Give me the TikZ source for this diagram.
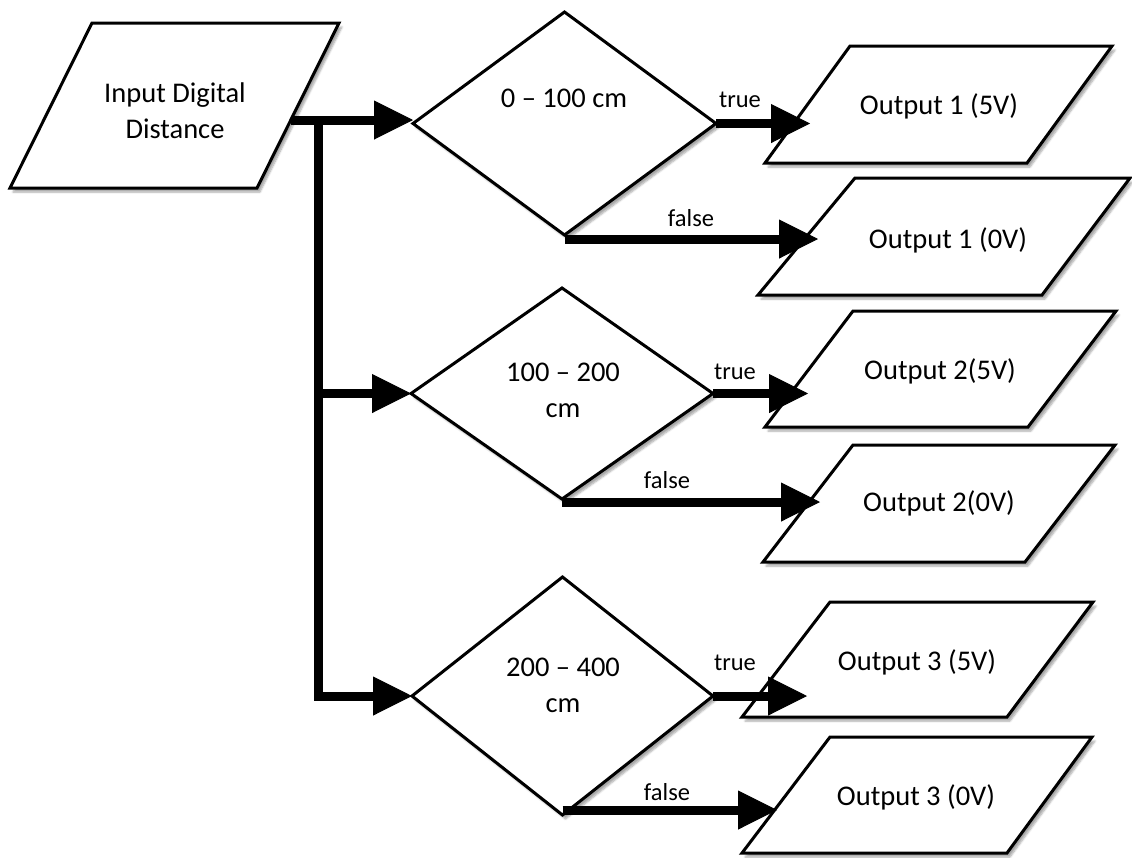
\documentclass[tikz,border=0pt]{standalone}
\usepackage{fontspec}
\setmainfont{Carlito}
\usetikzlibrary{arrows.meta,shapes.geometric,shadows.blur,calc}
\begin{document}
\begin{tikzpicture}[x=1pt,y=-1pt,
  shp/.style={draw=black,line width=3pt,fill=white,line join=miter,
    blur shadow={shadow xshift=3pt,shadow yshift=-4pt,shadow blur steps=6,shadow opacity=35}},
  dia/.style={shp,shape=diamond,inner sep=0pt,outer sep=0pt},
  txt/.style={font=\fontsize{28.5}{36}\selectfont,align=center,inner sep=0pt},
  lbl/.style={font=\fontsize{24.5}{30}\selectfont,inner sep=0pt},
  arr/.style={draw=black,line width=9pt,line join=miter,
    -{Triangle[length=39pt,width=39pt,line width=1pt,color=black,fill=black]}}
]
\useasboundingbox (0,0) rectangle (1132,857);

% input parallelogram
\draw[shp] (92,23) -- (339,23) -- (257,188) -- (10,188) -- cycle;
\node[txt] (in) at (175,111) {Input Digital\\Distance};

% decisions
\node[dia,minimum width=303pt,minimum height=223pt] (d1) at (564.5,123.5) {};
\node[dia,minimum width=302pt,minimum height=211pt] (d2) at (562,393.5) {};
\node[dia,minimum width=301pt,minimum height=238pt] (d3) at (562.5,696) {};
\node[txt] (d1t) at (564,98) {0 – 100 cm};
\node[txt] (d2t) at (563,390) {100 – 200\\cm};
\node[txt] (d3t) at (563,685) {200 – 400\\cm};

% outputs
\draw[shp] (850,46) -- (1112,46) -- (1027,163) -- (765,163) -- cycle;
\draw[shp] (855,178) -- (1130,178) -- (1042,295) -- (758,295) -- cycle;
\draw[shp] (853,311) -- (1116,311) -- (1028,427) -- (765,427) -- cycle;
\draw[shp] (853,445) -- (1115,445) -- (1025,562) -- (763,562) -- cycle;
\draw[shp] (830,602) -- (1093,602) -- (1007,717) -- (742,717) -- cycle;
\draw[shp] (830,737) -- (1092,737) -- (1007,853) -- (742,853) -- cycle;
\node[txt] (o1t) at (939,106) {Output 1 (5V)};
\node[txt] (o1f) at (948,240) {Output 1 (0V)};
\node[txt] (o2t) at (940,371) {Output 2(5V)};
\node[txt] (o2f) at (939,503) {Output 2(0V)};
\node[txt] (o3t) at (917,662) {Output 3 (5V)};
\node[txt] (o3f) at (916,797) {Output 3 (0V)};

% connector end points
\coordinate (inR) at (291,120);
\coordinate (j1) at (318,120);
\coordinate (o1tin) at (810,123.5);
\coordinate (o1fin) at (818,239);
\coordinate (o2tin) at (808,393.5);
\coordinate (o2fin) at (820,502);
\coordinate (o3tin) at (807,696);
\coordinate (o3fin) at (777,810);

% connectors
\draw[arr] (inR) -- (inR -| d1.west);
\draw[arr] (j1) |- (d3.west);
\draw[arr] (j1 |- d2.west) -- (d2.west);
\draw[arr] (d1.east) -- (o1tin);
\draw[arr] (o1fin -| d1.south) -- (o1fin);
\draw[arr] (d2.east) -- (o2tin);
\draw[arr] (o2fin -| d2.south) -- (o2fin);
\draw[arr] (d3.east) -- (o3tin);
\draw[arr] (o3fin -| d3.south) -- (o3fin);

% labels
\node[lbl] (t1) at (740,100) {true};
\node[lbl] (f1) at (691,218) {false};
\node[lbl] (t2) at (735,372) {true};
\node[lbl] (f2) at (667,480) {false};
\node[lbl] (t3) at (735,663) {true};
\node[lbl] (f3) at (667,792) {false};
\end{tikzpicture}
\end{document}
